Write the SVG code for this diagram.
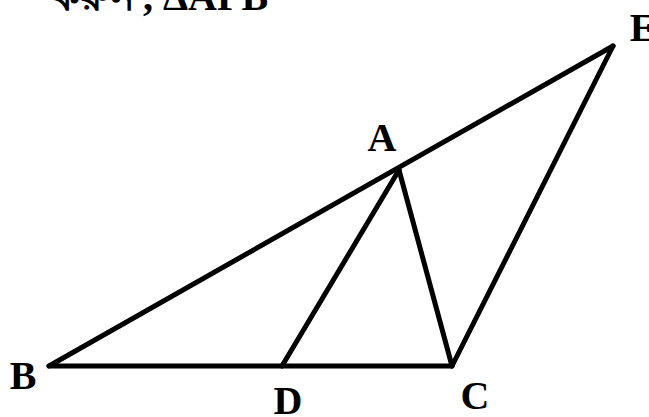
<svg xmlns="http://www.w3.org/2000/svg" width="649" height="417" viewBox="0 0 649 417">
<style>
.ln{stroke:#000;stroke-width:5;fill:none;stroke-linejoin:miter;stroke-linecap:round}
.lb{font-family:"Liberation Serif","Times New Roman",serif;font-weight:bold;font-size:40px;fill:#000}
.top{font-family:"Liberation Serif","Times New Roman",serif;font-weight:bold;font-size:40px;fill:#000}
</style>
<rect width="649" height="417" fill="#fff"/>
<text class="top" y="10"><tspan x="52">করুন</tspan><tspan x="143">, ΔAPB</tspan></text>
<g id="connectors">
<line class="ln" x1="49" y1="366" x2="613" y2="46"/>
<line class="ln" x1="49" y1="366" x2="452" y2="366"/>
<line class="ln" x1="282" y1="366" x2="399" y2="170"/>
<line class="ln" x1="399" y1="170" x2="452" y2="366"/>
<line class="ln" x1="452" y1="366" x2="613" y2="46"/>
</g>
<g id="node-A"><text class="lb" x="382" y="151" text-anchor="middle">A</text></g>
<g id="node-B"><text class="lb" x="23" y="389" text-anchor="middle">B</text></g>
<g id="node-C"><text class="lb" x="475" y="409" text-anchor="middle">C</text></g>
<g id="node-D"><text class="lb" x="288" y="414" text-anchor="middle">D</text></g>
<g id="node-E"><text class="lb" x="643" y="41" text-anchor="middle">E</text></g>
</svg>
